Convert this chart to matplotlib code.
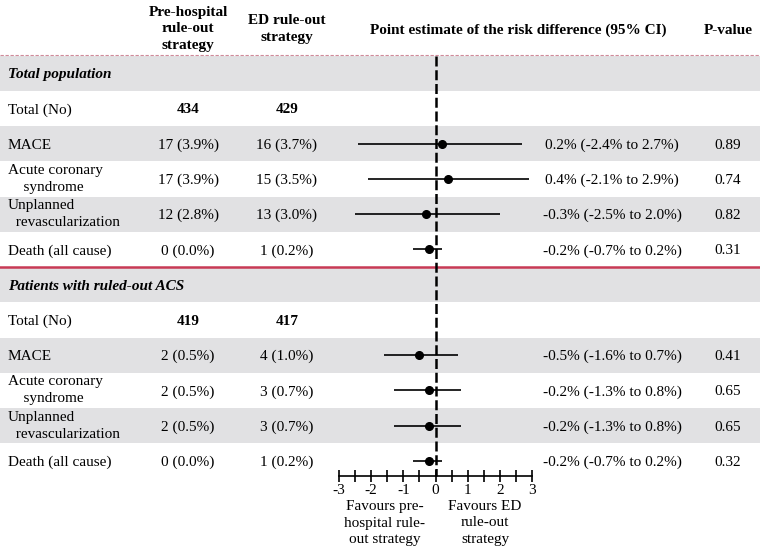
import matplotlib
matplotlib.use("Agg")
import matplotlib.pyplot as plt

plt.rcParams['font.family'] = ['Liberation Serif', 'DejaVu Serif']

# ---------------- data ----------------
sections = ["Total population", "Patients with ruled-out ACS"]
totals_pre = [434, 419]
totals_ed = [429, 417]
outcomes = ["MACE", "Acute coronary\n    syndrome", "Unplanned\n  revascularization", "Death (all cause)"]
pre_n = [[17, 17, 12, 0], [2, 2, 2, 0]]
pre_pct = [[3.9, 3.9, 2.8, 0.0], [0.5, 0.5, 0.5, 0.0]]
ed_n = [[16, 15, 13, 1], [4, 3, 3, 1]]
ed_pct = [[3.7, 3.5, 3.0, 0.2], [1.0, 0.7, 0.7, 0.2]]
rd = [[0.2, 0.4, -0.3, -0.2], [-0.5, -0.2, -0.2, -0.2]]
ci_lo = [[-2.4, -2.1, -2.5, -0.7], [-1.6, -1.3, -1.3, -0.7]]
ci_hi = [[2.7, 2.9, 2.0, 0.2], [0.7, 0.8, 0.8, 0.2]]
pvals = [["0.89", "0.74", "0.82", "0.31"], ["0.41", "0.65", "0.65", "0.32"]]
xticks = [-3, -2, -1, 0, 1, 2, 3]
col_headers = ["Pre-hospital\nrule-out\nstrategy", "ED rule-out\nstrategy",
               "Point estimate of the risk difference (95% CI)", "P-value"]
favours = ["Favours pre-\nhospital rule-\nout strategy", "Favours ED\nrule-out\nstrategy"]

# ---------------- layout ----------------
W, H = 760, 550
fig = plt.figure(figsize=(W / 100, H / 100), dpi=100)
bg = fig.add_axes([0, 0, 1, 1])
bg.set_xlim(0, W)
bg.set_ylim(H, 0)
bg.axis('off')

TOP = 55.5
RH = 35.25
FS = 11
GRAY = '#e1e1e3'
X_LABEL, X_PRE, X_ED, X_CI, X_P = 8, 188, 287, 612, 728
AX_L, AX_R = 339, 532   # pixel span of -3..3
AXIS_Y = 476
VA = 'center_baseline'

fx = fig.add_axes([AX_L / W, 0, (AX_R - AX_L) / W, 1])
fx.set_xlim(-3, 3)
fx.set_ylim(H, 0)
fx.patch.set_alpha(0)
for s in ['left', 'right', 'top']:
    fx.spines[s].set_visible(False)
fx.spines['bottom'].set_position(('data', AXIS_Y))
fx.spines['bottom'].set_linewidth(1.2)
fx.set_yticks([])
fx.set_xticks(xticks)
fx.set_xticks([v + 0.5 for v in xticks[:-1]], minor=True)
fx.tick_params(axis='x', which='both', direction='inout', length=9, width=1.2,
               labelsize=FS, pad=1)
fx.set_xticklabels([str(v) for v in xticks])

def row_center(i):
    return TOP + RH * (i + 0.5)

# header
bg.text(X_PRE, 29, col_headers[0], ha='center', va='center', fontsize=FS,
        fontweight='bold', linespacing=1.35)
bg.text(X_ED, 29, col_headers[1], ha='center', va='center', fontsize=FS,
        fontweight='bold', linespacing=1.35)
bg.text(518, 29, col_headers[2], ha='center', va=VA, fontsize=FS, fontweight='bold')
bg.text(X_P, 29, col_headers[3], ha='center', va=VA, fontsize=FS, fontweight='bold')

bg.axhline(TOP - 0.5, color='#d08a9a', lw=0.8, linestyle=(0, (3, 1.5)))

row = 0
for s, sec in enumerate(sections):
    # section header
    y0 = TOP + RH * row
    bg.axhspan(y0, y0 + RH, color=GRAY, lw=0)
    bg.text(X_LABEL, row_center(row), sec, ha='left', va=VA, fontsize=FS,
            fontweight='bold', fontstyle='italic')
    row += 1
    # totals
    bg.text(X_LABEL, row_center(row), "Total (No)", ha='left', va=VA, fontsize=FS)
    bg.text(X_PRE, row_center(row), str(totals_pre[s]), ha='center', va=VA,
            fontsize=FS, fontweight='bold')
    bg.text(X_ED, row_center(row), str(totals_ed[s]), ha='center', va=VA,
            fontsize=FS, fontweight='bold')
    row += 1
    for k, name in enumerate(outcomes):
        y0 = TOP + RH * row
        yc = row_center(row)
        if k % 2 == 0:
            bg.axhspan(y0, y0 + RH, color=GRAY, lw=0)
        bg.text(X_LABEL, yc, name, ha='left', va='center' if '\n' in name else VA,
                fontsize=FS, linespacing=1.4)
        bg.text(X_PRE, yc, f"{pre_n[s][k]} ({pre_pct[s][k]:.1f}%)", ha='center',
                va=VA, fontsize=FS)
        bg.text(X_ED, yc, f"{ed_n[s][k]} ({ed_pct[s][k]:.1f}%)", ha='center',
                va=VA, fontsize=FS)
        bg.text(X_CI, yc, f"{rd[s][k]:.1f}% ({ci_lo[s][k]:.1f}% to {ci_hi[s][k]:.1f}%)",
                ha='center', va=VA, fontsize=FS)
        bg.text(X_P, yc, pvals[s][k], ha='center', va=VA, fontsize=FS)
        fx.hlines(yc, ci_lo[s][k], ci_hi[s][k], color='black', lw=1.2, zorder=3)
        fx.plot(rd[s][k], yc, 'o', color='black', ms=5.5, zorder=4)
        row += 1
    if s == 0:
        bg.axhline(TOP + RH * row, color='#c83a55', lw=1.8)

fx.vlines(0, TOP, AXIS_Y, color='black', lw=1.8, linestyle=(0, (4, 1.5)), zorder=2)

# favours labels
fig.text(385 / W, 1 - 523 / H, favours[0], ha='center', va='center', fontsize=FS,
         linespacing=1.35)
fig.text(485 / W, 1 - 523 / H, favours[1], ha='center', va='center', fontsize=FS,
         linespacing=1.35)

fig.savefig("out.png", dpi=100)
